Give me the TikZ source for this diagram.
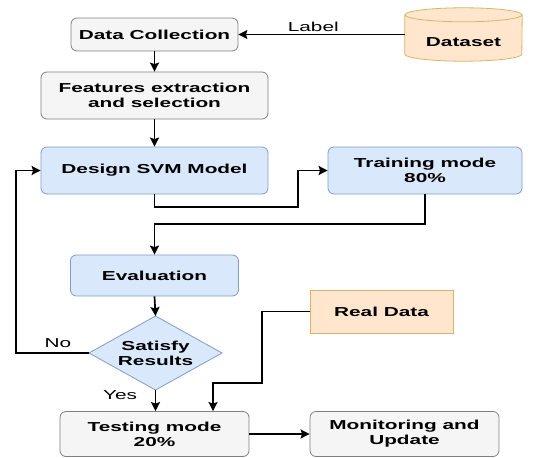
\documentclass[tikz,border=0pt]{standalone}
\usepackage{fontspec}
\setmainfont{Liberation Sans}[FakeStretch=1.6]
\usetikzlibrary{arrows.meta,calc}
\definecolor{gfill}{HTML}{F5F5F5}
\definecolor{gline}{HTML}{808080}
\definecolor{bfill}{HTML}{DAE8FC}
\definecolor{bline}{HTML}{7F9CC8}
\definecolor{ofill}{HTML}{FFE6CC}
\definecolor{oline}{HTML}{D9B36A}
\tikzset{
  box/.style={rectangle, rounded corners=6pt, line width=0.8pt, align=center,
    font=\fontsize{13}{15}\selectfont\bfseries, inner sep=0pt},
  graybox/.style={box, draw=gline, fill=gfill},
  bluebox/.style={box, draw=bline, fill=bfill},
  orangebox/.style={box, rounded corners=0pt, draw=oline, fill=ofill},
  txt/.style={align=center, font=\fontsize{13}{15}\selectfont\bfseries, inner sep=0pt},
  lbl/.style={font=\fontsize{13}{15}\selectfont, inner sep=0pt},
  conn/.style={line width=1.7pt, -{Stealth[length=9pt,width=9pt,inset=1.5pt]}},
  thinconn/.style={line width=1pt, -{Stealth[length=9pt,width=9pt,inset=1.5pt]}},
}
\begin{document}
\begin{tikzpicture}[x=1pt,y=-1pt]
\useasboundingbox (0,0) rectangle (534,457);
% nodes
\node[graybox, minimum width=167pt, minimum height=33pt] (dc) at (154.5,34.5) {Data Collection};
\node[graybox, minimum width=227pt, minimum height=47pt] (fe) at (154.5,95.5) {Features extraction\\and selection};
\node[bluebox, minimum width=227pt, minimum height=47pt] (svm) at (154.5,170.5) {Design SVM Model};
\node[bluebox, minimum width=194pt, minimum height=47pt] (tr) at (425,170.5) {Training mode\\80\%};
\node[bluebox, minimum width=168pt, minimum height=41pt] (ev) at (154.5,275.5) {Evaluation};
\node[orangebox, minimum width=143pt, minimum height=43pt] (rd) at (381.5,311.5) {Real Data};
\node[graybox, minimum width=189pt, minimum height=45pt] (te) at (154.5,434) {Testing mode\\20\%};
\node[graybox, minimum width=189pt, minimum height=45pt] (mo) at (404.5,434) {Monitoring and\\Update};
% dataset cylinder
\node[rectangle, minimum width=117pt, minimum height=53pt, inner sep=0pt] (ds) at (463.5,34.5) {};
\fill[ofill] ($(ds.north west)+(0,7)$) -- ($(ds.south west)+(0,-7)$)
   arc[start angle=180, end angle=360, x radius=58.5pt, y radius=7pt]
   -- ($(ds.north east)+(0,7)$)
   arc[start angle=0, end angle=180, x radius=58.5pt, y radius=-7pt] -- cycle;
\draw[oline, line width=0.8pt] ($(ds.north west)+(0,7)$) -- ($(ds.south west)+(0,-7)$)
   arc[start angle=180, end angle=360, x radius=58.5pt, y radius=7pt]
   -- ($(ds.north east)+(0,7)$);
\draw[oline, line width=0.8pt, fill=ofill] ($(ds.north)+(0,7)$) ellipse[x radius=58.5pt, y radius=7pt];
\node[txt] at ($(ds.center)+(0,8)$) {Dataset};
% diamond
\coordinate (satN) at (155.5,316);
\coordinate (satS) at (155.5,390);
\coordinate (satW) at (89,353);
\coordinate (satE) at (222,353);
\draw[bline, line width=0.8pt, fill=bfill] (satN) -- (satE) -- (satS) -- (satW) -- cycle;
\node[txt] (sat) at (155.5,353) {Satisfy\\Results};
% junctions
\coordinate (j1) at (298,207);
\coordinate (j2) at (425,224);
\coordinate (j3) at (16,170.5);
\coordinate (j4) at (262,383);
\coordinate (j5) at (213,383);
% connectors
\draw[thinconn] (ds.west) -- node[lbl, above=2pt, pos=0.55] {Label} (dc.east);
\draw[conn] (dc.south) -- (fe.north);
\draw[conn] (fe.south) -- (svm.north);
\draw[conn] (svm.south) |- (j1) |- (tr.west);
\draw[conn] (tr.south) -- (j2) -| (ev.north);
\draw[conn] (ev.south) -- (satN);
\draw[conn] (satW) -| (j3) -- (svm.west);
\node[lbl] (no) at (58,343) {No};
\draw[conn] (satS) -- (satS |- te.north);
\node[lbl] (yes) at (120,395) {Yes};
\draw[conn] (rd.west) -| (j4) -- (j5) -- (j5 |- te.north);
\draw[conn] (te.east) -- (mo.west);
\end{tikzpicture}
\end{document}
